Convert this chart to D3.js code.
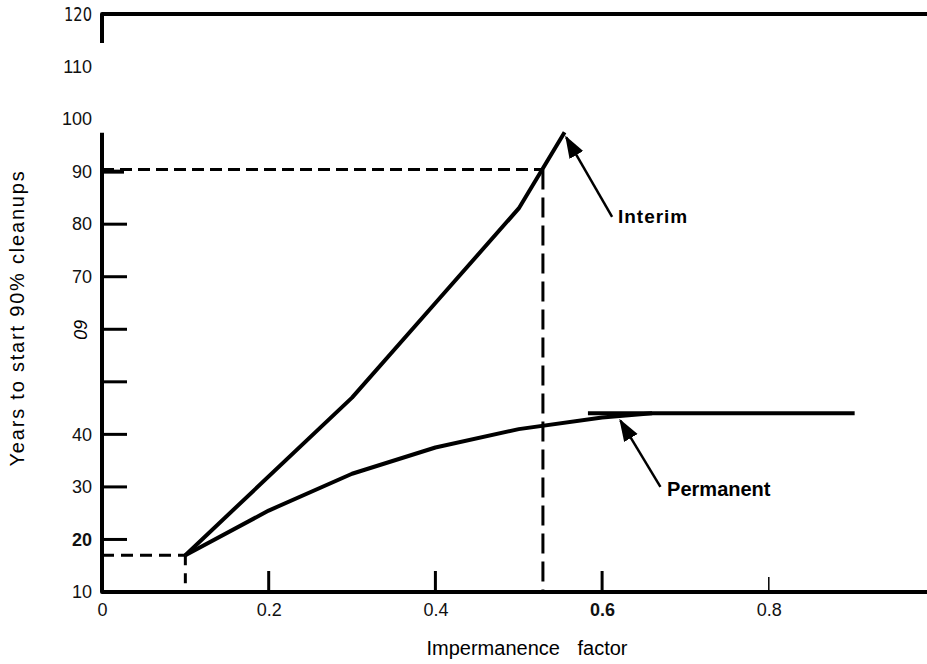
<!DOCTYPE html>
<html lang="en">
<head>
    <meta charset="UTF-8">
    <title>Years to start 90% cleanups</title>
    <script src="https://d3js.org/d3.v7.min.js"></script>
    <style>
        body { margin: 0; background: #fff; }
        svg { display: block; font-family: "Liberation Sans", Arial, sans-serif; }
        .tick text { font-size: 18px; fill: #111; }
        .curve { fill: none; stroke: #000; stroke-width: 4px; stroke-linejoin: round; }
        .guide { fill: none; stroke: #000; stroke-width: 3px; }
        .label { fill: #000; }
    </style>
</head>
<body>
<svg id="chart" width="927" height="664"></svg>
<script>
    // values
    const xTicks = [0, 0.2, 0.4, 0.6, 0.8];
    const xTickLabels = ["0", "0.2", "0.4", "0.6", "0.8"];
    const yLabelValues = [10, 20, 30, 40, 70, 80, 90, 100, 110, 120];
    const yTickMarks = [20, 30, 40, 50, 60, 70, 80, 90];

    const interimX = [0.1, 0.3, 0.4, 0.5, 0.555];
    const interimY = [17, 47, 65, 83, 97.5];

    const permanentX = [0.1, 0.2, 0.3, 0.4, 0.5, 0.6, 0.66];
    const permanentY = [17, 25.5, 32.5, 37.5, 41, 43.2, 44];
    const plateauX = [0.583, 0.903];
    const plateauY = 44;

    // dashed reading guides
    const startPoint = [0.1, 17];
    const readPoint = [0.529, 90.4];

    const svg = d3.select("#chart");

    const x = d3.scaleLinear().domain([0, 1]).range([102, 935.5]);
    const y = d3.scaleLinear().domain([10, 120]).range([592, 14]);

    const line = d3.line().x(d => x(d[0])).y(d => y(d[1]));

    // frame: broken y axis, x axis, top line
    svg.append("path").attr("class", "curve").attr("stroke-width", 3)
        .attr("d", line([[0, 97.4], [0, 10], [1.0, 10]]));
    svg.append("path").attr("class", "curve").attr("stroke-width", 3)
        .attr("d", line([[0, 114.5], [0, 120], [1.0, 120]]));

    // y tick marks (inward)
    svg.selectAll(".ytick")
        .data(yTickMarks)
        .enter().append("line")
        .attr("x1", x(0)).attr("x2", d => x(0) + (d === 90 ? 22 : 25))
        .attr("y1", d => y(d)).attr("y2", d => y(d))
        .attr("stroke", "#000").attr("stroke-width", d => d === 90 ? 4 : 3);

    // x tick marks (inward)
    svg.selectAll(".xtick")
        .data(xTicks.slice(1))
        .enter().append("line")
        .attr("x1", d => x(d)).attr("x2", d => x(d))
        .attr("y1", y(10)).attr("y2", (d, i) => y(10) - (i === 3 ? 15 : 21))
        .attr("stroke", "#000").attr("stroke-width", (d, i) => i === 3 ? 1.5 : 3);

    // y labels
    const yAxis = svg.append("g")
        .attr("transform", "translate(" + x(0) + ",0)")
        .call(d3.axisLeft(y).tickValues(yLabelValues).tickSize(0).tickPadding(10).tickFormat(d3.format("d")));
    yAxis.select(".domain").remove();
    yAxis.selectAll(".tick text")
        .attr("font-family", d => d === 120 ? "'DejaVu Sans', sans-serif" : null)
        .style("font-weight", d => d === 20 ? "bold" : null)
        .style("font-size", d => d === 120 ? "19px" : null)
        .attr("textLength", d => d === 120 ? 28 : null)
        .attr("lengthAdjust", "spacingAndGlyphs");

    // the scrambled "60" label
    svg.append("text")
        .attr("transform", "translate(" + (x(0) - 22) + "," + y(60) + ") rotate(90)")
        .attr("text-anchor", "middle")
        .attr("dy", "0.35em")
        .attr("font-size", 18)
        .attr("font-style", "italic")
        .text("60");

    // x labels
    const xAxis = svg.append("g")
        .attr("transform", "translate(0," + y(10) + ")")
        .call(d3.axisBottom(x).tickValues(xTicks).tickSize(0).tickPadding(11)
            .tickFormat((d, i) => xTickLabels[i]));
    xAxis.select(".domain").remove();
    xAxis.selectAll(".tick text")
        .style("font-weight", d => d === 0.6 ? "bold" : null);

    // dashed guides
    const guide = (pts, dash) => svg.append("path").attr("class", "guide")
        .attr("stroke-dasharray", dash).attr("d", line(pts));
    guide([[0, startPoint[1]], startPoint], "12 7");
    guide([startPoint, [startPoint[0], 10]], "10 8");
    guide([[0, readPoint[1]], readPoint], "12 6");
    guide([readPoint, [readPoint[0], 10]], "20 8");

    // curves
    svg.append("path").attr("class", "curve")
        .attr("d", line(d3.zip(interimX, interimY)));
    svg.append("path").attr("class", "curve")
        .attr("d", line(d3.zip(permanentX, permanentY)));
    svg.append("path").attr("class", "curve").attr("stroke-width", 5)
        .attr("d", line(plateauX.map(v => [v, plateauY])));

    // arrows + labels
    svg.append("defs").append("marker")
        .attr("id", "head")
        .attr("viewBox", "0 0 10 10")
        .attr("refX", 9).attr("refY", 5)
        .attr("markerWidth", 9).attr("markerHeight", 9)
        .attr("markerUnits", "strokeWidth")
        .attr("orient", "auto")
        .append("path").attr("d", "M0,1.5 L10,5 L0,8.5 Z").attr("fill", "#000");

    const notes = [
        { text: "Interim", tail: [0.612, 81.4], tip: [0.557, 96.5], at: [0.619, 80.3], size: 19, weight: "600", spacing: 1 },
        { text: "Permanent", tail: [0.67, 30], tip: [0.622, 42.6], at: [0.678, 28.2], size: 20, weight: "bold", spacing: 0 }
    ];
    notes.forEach(n => {
        svg.append("line")
            .attr("x1", x(n.tail[0])).attr("y1", y(n.tail[1]))
            .attr("x2", x(n.tip[0])).attr("y2", y(n.tip[1]))
            .attr("stroke", "#000").attr("stroke-width", 2.5)
            .attr("marker-end", "url(#head)");
        svg.append("text").attr("class", "label")
            .attr("x", x(n.at[0])).attr("y", y(n.at[1]))
            .attr("font-size", n.size)
            .attr("font-weight", n.weight)
            .attr("letter-spacing", n.spacing)
            .text(n.text);
    });

    // axis titles
    svg.append("text")
        .attr("x", 527).attr("y", 655)
        .attr("text-anchor", "middle")
        .attr("font-size", 20)
        .attr("word-spacing", 12)
        .text("Impermanence factor");

    svg.append("text")
        .attr("transform", "translate(24,318) rotate(-90)")
        .attr("text-anchor", "middle")
        .attr("font-size", 20)
        .attr("letter-spacing", 1.8)
        .text("Years to start 90% cleanups");
</script>
</body>
</html>
